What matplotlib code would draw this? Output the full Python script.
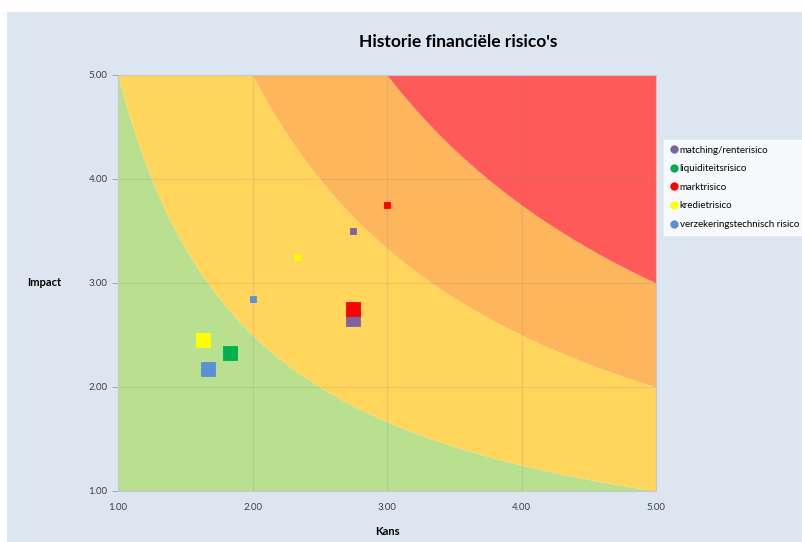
import numpy as np
import matplotlib.pyplot as plt
from matplotlib.patches import Rectangle

plt.rcParams['font.family'] = ['Lato', 'DejaVu Sans']

# risicoreeksen: per reeks eerst de historische, dan de actuele positie
series_names = ['matching/renterisico', 'liquiditeitsrisico', 'marktrisico',
                'kredietrisico', 'verzekeringstechnisch risico']
series_colors = ['#7f63a1', '#00b050', '#ff0000', '#ffff00', '#5b8fd6']
kans = [[2.75, 2.75], [1.83], [3.00, 2.75], [2.33, 1.63], [2.00, 1.67]]
impact = [[3.50, 2.65], [2.33], [3.75, 2.75], [3.25, 2.45], [2.85, 2.17]]
marker_sizes = [[5, 10.5], [10.5], [5, 10.5], [5, 10.5], [5, 10.5]]

# zonegrenzen: kans x impact
zone_limits = [5, 10, 15]
zone_colors = ['#b9e08e', '#ffd55c', '#fdb65b', '#ff5a5a']

ticks = [1.0, 2.0, 3.0, 4.0, 5.0]

fig = plt.figure(figsize=(8.03, 5.42), dpi=100)
fig.patch.set_facecolor('white')
fig.add_artist(Rectangle((7 / 803, 0), 1, 1 - 12 / 542, transform=fig.transFigure,
                         facecolor='#dce6f1', edgecolor='none', zorder=-10))

ax = fig.add_axes([118 / 803, 51 / 542, 538 / 803, 416 / 542])
ax.set_facecolor('white')

xs = np.linspace(1, 5, 600)
lower = np.ones_like(xs)
for limit, color in zip(zone_limits, zone_colors):
    upper = np.clip(limit / xs, 1, 5)
    ax.fill_between(xs, lower, upper, color=color, lw=0, zorder=0)
    lower = upper
ax.fill_between(xs, lower, 5, color=zone_colors[-1], lw=0, zorder=0)

ax.set_xlim(1, 5)
ax.set_ylim(1, 5)
ax.set_xticks(ticks)
ax.set_yticks(ticks)
ax.set_xticklabels([f'{t:.2f}' for t in ticks])
ax.set_yticklabels([f'{t:.2f}' for t in ticks])
ax.tick_params(axis='both', labelsize=7, colors='#404040', length=4, width=0.6)
ax.tick_params(axis='x', length=0, pad=9)
ax.tick_params(axis='y', color='#a0a0a0')
ax.grid(True, color='#808080', alpha=0.16, lw=0.9, zorder=1)
for sp in ax.spines.values():
    sp.set_color('#c8c8c8')
    sp.set_linewidth(0.8)

for name, color, xv, yv, ms in zip(series_names, series_colors, kans, impact, marker_sizes):
    for x, y, m in zip(xv, yv, ms):
        ax.plot(x, y, marker='s', ms=m, color=color, mec=color, mew=0.6,
                ls='none', zorder=3)
    ax.plot([], [], marker='o', ms=5, color=color, ls='none', label=name)

ax.set_xlabel('Kans', fontsize=8, fontweight='bold', labelpad=10)
ax.set_ylabel('Impact', fontsize=8, fontweight='bold', rotation=0, va='center', labelpad=0)
ax.yaxis.set_label_coords(-74 / 538, 0.5)

fig.text(458 / 803, 1 - 42 / 542, "Historie financiële risico's", ha='center', va='center',
         fontsize=12.5, fontweight='bold', color='black')

leg = fig.legend(loc='upper left', bbox_to_anchor=(664 / 803, 1 - 140 / 542),
                 fontsize=7, frameon=True, fancybox=False, handletextpad=0.1,
                 handlelength=0.9, labelspacing=0.98, borderpad=0.6, borderaxespad=0)
leg.get_frame().set_facecolor('white')
leg.get_frame().set_edgecolor('white')

fig.savefig('out.png', dpi=100)
